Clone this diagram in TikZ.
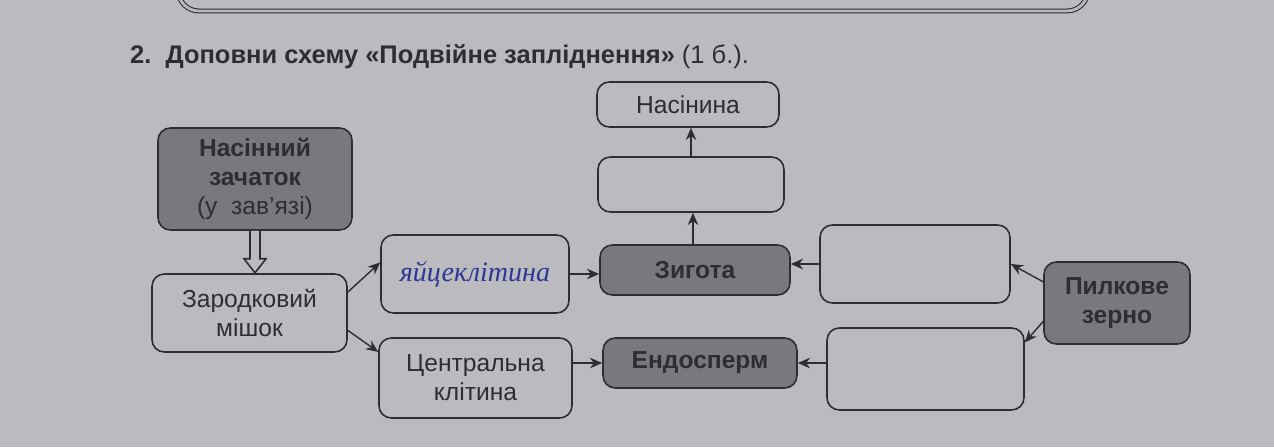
\documentclass[tikz,border=0pt]{standalone}
\usepackage{fontspec}
\setmainfont{Liberation Sans}
\newfontfamily\handfont{Liberation Serif}
\usetikzlibrary{arrows.meta}

\definecolor{paper}{RGB}{186,186,191}
\definecolor{boxdark}{RGB}{120,120,125}
\definecolor{ink}{RGB}{45,45,50}
\definecolor{pen}{RGB}{45,55,150}

\begin{document}
\begin{tikzpicture}[x=0.02cm, y=-0.02cm,
  every node/.style={font=\fontsize{14}{16.5}\selectfont, text=ink},
  blank/.style={draw=ink, line width=0.9pt, rounded corners=7pt, fill=paper,
    align=center, inner sep=0pt},
  shaded/.style={blank, fill=boxdark, font=\fontsize{14}{16.5}\selectfont\bfseries},
  link/.style={-{Stealth[length=7pt, width=6pt]}, draw=ink, line width=0.8pt}]

  %% Paper
  \fill[paper] (0,0) rectangle (1274,447);
  \useasboundingbox (0,0) rectangle (1274,447);

  % Frame of the previous task (cut off)
  \draw[ink, line width=0.6pt, double=paper, double distance=1.6pt, rounded corners=12pt]
    (178,-40) rectangle (1088,11);

  %% Title
  \node[anchor=west, font=\fontsize{14.5}{17}\selectfont\bfseries] (title) at (124,57)
    {2.\ \ Доповни схему «Подвійне запліднення» {\mdseries (1 б.).}};

  %% Left column
  \node[shaded, minimum width=3.88cm, minimum height=2.04cm] (ovule) at (255,179)
    {Насінний\\зачаток\\{\mdseries (у\ \ зав’язі)}};
  \node[blank, minimum width=3.9cm, minimum height=1.56cm] (sac) at (249.5,313)
    {Зародковий\\мішок};

  %% Middle columns
  \node[blank, minimum width=3.76cm, minimum height=1.56cm] (egg) at (475,274)
    {\handfont\itshape\fontsize{16}{18}\selectfont\color{pen}яйцеклітина};
  \node[blank, minimum width=3.86cm, minimum height=1.6cm] (central) at (475.5,378)
    {Центральна\\клітина};

  \node[blank, minimum width=3.64cm, minimum height=0.9cm] (seed) at (688,104.5) {Насінина};
  \node[blank, minimum width=3.72cm, minimum height=1.1cm] (embryo) at (691,184.5) {};
  \node[shaded, minimum width=3.8cm, minimum height=1.0cm] (zygote) at (695,270) {Зигота};
  \node[shaded, minimum width=3.88cm, minimum height=1.0cm] (endo) at (700,363) {Ендосперм};

  %% Right columns
  \node[blank, minimum width=3.8cm, minimum height=1.56cm] (sperm1) at (915,264) {};
  \node[blank, minimum width=3.94cm, minimum height=1.64cm] (sperm2) at (925.5,369) {};
  \node[shaded, minimum width=2.92cm, minimum height=1.64cm] (pollen) at (1117,303)
    {Пилкове\\зерно};

  %% Hollow arrow
  \draw[ink, line width=0.9pt, fill=paper]
    ([xshift=-0.1cm]ovule.south) -- ++(0,28) -- ++(-6,0) -- ++(11,14)
    -- ++(11,-14) -- ++(-6,0) -- ++(0,-28);

  %% Connectors
  \draw[link] (sac.12) -- (egg.173);
  \draw[link] (sac.-10) -- (central.165);
  \draw[link] (egg.east) -- (egg.east -| zygote.west);
  \draw[link] (endo.west -| central.east) -- (endo.west);
  \draw[link] ([xshift=-0.04cm]zygote.north) -- ([xshift=-0.04cm]zygote.north |- embryo.south);
  \draw[link] (embryo.north) -- (embryo.north |- seed.south);
  \draw[link] (sperm1.west) -- (sperm1.west -| zygote.east);
  \draw[link] (sperm2.west |- endo.east) -- (endo.east);
  \draw[link] (pollen.164) -- (sperm1.east);
  \draw[link] (pollen.194) -- (sperm2.15);

\end{tikzpicture}
\end{document}
